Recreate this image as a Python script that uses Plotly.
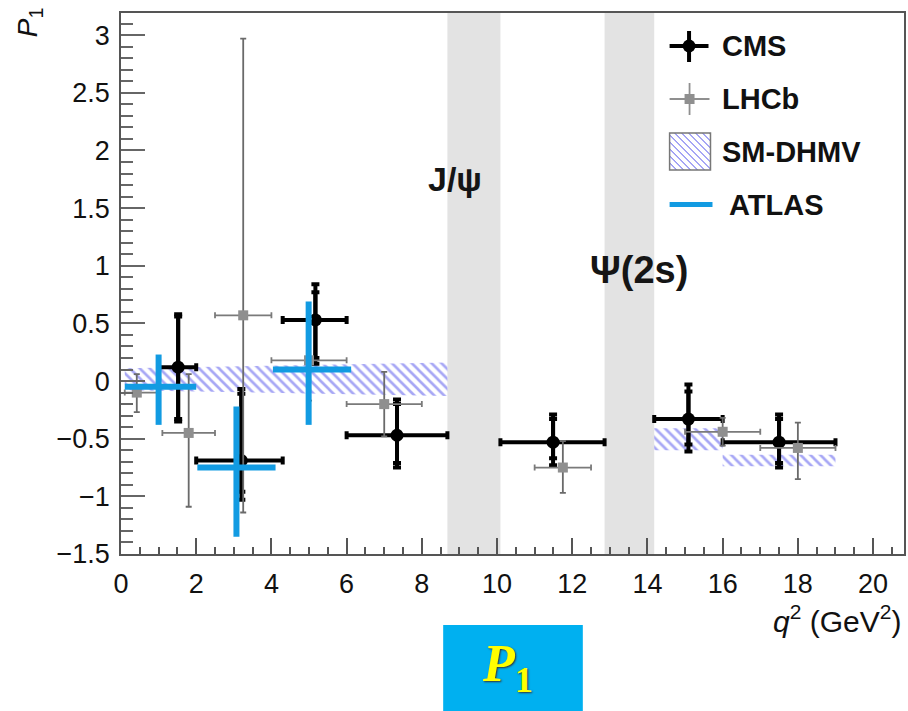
import plotly.graph_objects as go

# ---------------- data ----------------
# CMS
cms_x = [1.52, 3.20, 5.17, 7.34, 11.49, 15.09, 17.50]
cms_xlo = [1.0, 2.0, 4.3, 6.0, 10.09, 14.18, 16.0]
cms_xhi = [2.0, 4.3, 6.0, 8.68, 12.86, 16.0, 19.0]
cms_y = [0.12, -0.69, 0.53, -0.47, -0.53, -0.33, -0.53]
cms_tot_up = [0.46, 0.62, 0.31, 0.31, 0.24, 0.30, 0.24]
cms_tot_dn = [0.47, 0.34, 0.38, 0.28, 0.20, 0.28, 0.22]
cms_stat_up = [0.44, 0.58, 0.24, 0.27, 0.20, 0.24, 0.20]
cms_stat_dn = [0.45, 0.27, 0.33, 0.24, 0.14, 0.22, 0.18]

# LHCb
lhcb_x = [0.42, 1.80, 3.25, 5.00, 7.00, 11.75, 16.00, 18.00]
lhcb_xlo = [0.1, 1.1, 2.5, 4.0, 6.0, 11.0, 15.0, 17.0]
lhcb_xhi = [0.98, 2.5, 4.0, 6.0, 8.0, 12.5, 17.0, 19.0]
lhcb_y = [-0.10, -0.45, 0.57, 0.18, -0.20, -0.75, -0.44, -0.58]
lhcb_up = [0.16, 0.51, 2.40, 0.36, 0.28, 0.23, 0.12, 0.22]
lhcb_dn = [0.17, 0.64, 1.71, 0.35, 0.28, 0.22, 0.12, 0.27]

# ATLAS
atlas_x = [1.00, 3.07, 4.99]
atlas_xlo = [0.10, 2.03, 4.04]
atlas_xhi = [2.00, 4.11, 6.12]
atlas_y = [-0.05, -0.75, 0.10]
atlas_up = [0.28, 0.53, 0.59]
atlas_dn = [0.33, 0.60, 0.48]

# SM-DHMV prediction bands (start/end of each segment)
dhmv_lo = [0.1, 14.18, 16.0]
dhmv_hi = [8.68, 16.0, 19.0]
dhmv_top_start = [0.11, -0.41, -0.64]
dhmv_top_end = [0.16, -0.41, -0.64]
dhmv_bot_start = [-0.08, -0.60, -0.74]
dhmv_bot_end = [-0.13, -0.60, -0.74]

# vetoed charmonium regions
veto_lo = [8.68, 12.86]
veto_hi = [10.09, 14.18]
veto_labels = ["J/ψ", "Ψ(2s)"]
veto_label_x = [8.89, 13.77]
veto_label_y = [1.75, 0.965]
veto_label_size = [34, 38]

x_ticks = [0, 2, 4, 6, 8, 10, 12, 14, 16, 18, 20]

# ---------------- layout geometry ----------------
L, R, T, B = 121, 906, 13, 554
W, H = 908, 711


def PX(p):
    return (p - L) / (R - L)


def PY(p):
    return (B - p) / (B - T)


FONT = "Liberation Sans, Arial, Helvetica, sans-serif"
BLUE = "#129be2"
GRAY = "#8f8f8f"
HATCH = "#4f4fec"

fig = go.Figure()

# hatched SM-DHMV bands
for i in range(len(dhmv_lo)):
    fig.add_trace(go.Scatter(
        x=[dhmv_lo[i], dhmv_hi[i], dhmv_hi[i], dhmv_lo[i], dhmv_lo[i]],
        y=[dhmv_top_start[i], dhmv_top_end[i], dhmv_bot_end[i], dhmv_bot_start[i], dhmv_top_start[i]],
        mode="lines", line=dict(width=0, color="rgba(0,0,0,0)"),
        fill="toself", fillcolor="rgba(0,0,0,0)",
        fillpattern=dict(shape="\\", fgcolor=HATCH, bgcolor="rgba(0,0,0,0)",
                         size=7, solidity=0.38),
        showlegend=False, hoverinfo="skip"))

# CMS total errors
fig.add_trace(go.Scatter(
    x=cms_x, y=cms_y, mode="markers",
    marker=dict(symbol="circle", size=13, color="black"),
    error_x=dict(type="data", symmetric=False,
                 array=[h - c for h, c in zip(cms_xhi, cms_x)],
                 arrayminus=[c - l for l, c in zip(cms_xlo, cms_x)],
                 color="black", thickness=4, width=4),
    error_y=dict(type="data", symmetric=False, array=cms_tot_up, arrayminus=cms_tot_dn,
                 color="black", thickness=4, width=4),
    showlegend=False))
# CMS stat errors (inner caps)
fig.add_trace(go.Scatter(
    x=cms_x, y=cms_y, mode="markers",
    marker=dict(size=1, color="rgba(0,0,0,0)"),
    error_y=dict(type="data", symmetric=False, array=cms_stat_up, arrayminus=cms_stat_dn,
                 color="black", thickness=4, width=4),
    showlegend=False))

# LHCb
fig.add_trace(go.Scatter(
    x=lhcb_x, y=lhcb_y, mode="markers",
    marker=dict(symbol="square", size=10, color=GRAY),
    error_x=dict(type="data", symmetric=False,
                 array=[h - c for h, c in zip(lhcb_xhi, lhcb_x)],
                 arrayminus=[c - l for l, c in zip(lhcb_xlo, lhcb_x)],
                 color="#7a7a7a", thickness=1.8, width=3),
    error_y=dict(type="data", symmetric=False, array=lhcb_up, arrayminus=lhcb_dn,
                 color="#6a6a6a", thickness=1.8, width=3),
    showlegend=False))

# ATLAS
fig.add_trace(go.Scatter(
    x=atlas_x, y=atlas_y, mode="markers",
    marker=dict(size=1, color="rgba(0,0,0,0)"),
    error_x=dict(type="data", symmetric=False,
                 array=[h - c for h, c in zip(atlas_xhi, atlas_x)],
                 arrayminus=[c - l for l, c in zip(atlas_xlo, atlas_x)],
                 color=BLUE, thickness=6, width=0),
    error_y=dict(type="data", symmetric=False, array=atlas_up, arrayminus=atlas_dn,
                 color=BLUE, thickness=6, width=0),
    showlegend=False))

shapes = []
# veto bands
for lo, hi in zip(veto_lo, veto_hi):
    shapes.append(dict(type="rect", xref="x", yref="paper", x0=lo, x1=hi, y0=0, y1=1,
                       fillcolor="#e3e3e3", line=dict(width=0), layer="below"))

annotations = []
for t, xx, yy, s in zip(veto_labels, veto_label_x, veto_label_y, veto_label_size):
    annotations.append(dict(x=xx, y=yy, xref="x", yref="y", text="<b>%s</b>" % t,
                            showarrow=False, font=dict(family=FONT, size=s, color="#151515")))

# ---------------- legend (drawn manually) ----------------
# CMS
shapes.append(dict(type="line", xref="paper", yref="paper", x0=PX(671), x1=PX(710), y0=PY(46), y1=PY(46),
                   line=dict(color="black", width=4)))
shapes.append(dict(type="line", xref="paper", yref="paper", x0=PX(690.5), x1=PX(690.5), y0=PY(31), y1=PY(62),
                   line=dict(color="black", width=4)))
shapes.append(dict(type="circle", xref="paper", yref="paper", x0=PX(684), x1=PX(697), y0=PY(39.5), y1=PY(52.5),
                   fillcolor="black", line=dict(width=0)))
# LHCb
shapes.append(dict(type="line", xref="paper", yref="paper", x0=PX(671), x1=PX(711), y0=PY(99), y1=PY(99),
                   line=dict(color=GRAY, width=1.8)))
shapes.append(dict(type="line", xref="paper", yref="paper", x0=PX(691), x1=PX(691), y0=PY(83), y1=PY(115),
                   line=dict(color=GRAY, width=1.8)))
shapes.append(dict(type="rect", xref="paper", yref="paper", x0=PX(686), x1=PX(696), y0=PY(94), y1=PY(104),
                   fillcolor=GRAY, line=dict(width=0)))
# SM-DHMV box with hatch
bx0, bx1, by0, by1 = 671, 712, 133, 170
c = bx0 - by1
while c < bx1 - by0:
    ya = max(by0, bx0 - c)
    yb = min(by1, bx1 - c)
    if yb > ya:
        shapes.append(dict(type="line", xref="paper", yref="paper",
                           x0=PX(ya + c), y0=PY(ya), x1=PX(yb + c), y1=PY(yb),
                           line=dict(color=HATCH, width=1)))
    c += 7
shapes.append(dict(type="rect", xref="paper", yref="paper", x0=PX(bx0), x1=PX(bx1), y0=PY(by0), y1=PY(by1),
                   line=dict(color="#777777", width=1.5)))
# ATLAS
shapes.append(dict(type="line", xref="paper", yref="paper", x0=PX(671), x1=PX(714), y0=PY(204.5), y1=PY(204.5),
                   line=dict(color=BLUE, width=5)))

leg_names = ["CMS", "LHCb", "SM-DHMV", "ATLAS"]
leg_x = [722, 722, 722, 729]
leg_y = [46, 99, 152, 205]
for n, lx, ly in zip(leg_names, leg_x, leg_y):
    annotations.append(dict(x=PX(lx), y=PY(ly), xref="paper", yref="paper", xanchor="left", yanchor="middle",
                            text="<b>%s</b>" % n, showarrow=False,
                            font=dict(family=FONT, size=29, color="#111111")))

# axis titles
annotations.append(dict(x=PX(905), y=PY(619), xref="paper", yref="paper", xanchor="right", yanchor="middle",
                        text="<i>q</i><sup>2</sup> (GeV<sup>2</sup>)", showarrow=False,
                        font=dict(family=FONT, size=30, color="#111111")))
annotations.append(dict(x=PX(30), y=PY(22), xref="paper", yref="paper", xanchor="center", yanchor="middle",
                        textangle=-90, text="<i>P</i><sub>1</sub>", showarrow=False,
                        font=dict(family=FONT, size=28, color="#111111")))

# bottom P1 label box
shapes.append(dict(type="rect", xref="paper", yref="paper", x0=PX(444), x1=PX(584), y0=PY(625), y1=PY(715),
                   fillcolor="#00b0f0", line=dict(width=0)))
annotations.append(dict(x=PX(508), y=PY(667), xref="paper", yref="paper", xanchor="center", yanchor="middle",
                        text="<b><i>P</i></b><sub><b>1</b></sub>", showarrow=False,
                        font=dict(family="Liberation Serif, DejaVu Serif, serif", size=52, color="#ffff00",
                                  shadow="1px 1px 2px #333333")))

fig.update_layout(
    width=W, height=H,
    margin=dict(l=L, r=W - R, t=T, b=H - B, pad=0),
    paper_bgcolor="white", plot_bgcolor="white",
    shapes=shapes, annotations=annotations,
    showlegend=False,
    font=dict(family=FONT, size=27, color="#111111"),
)
fig.update_xaxes(
    range=[0, (R - L) / 37.7], tickvals=x_ticks, ticktext=[str(v) for v in x_ticks],
    ticks="inside", ticklen=16, tickwidth=1.5, tickcolor="#555555",
    minor=dict(dtick=0.5, tick0=0, ticks="inside", ticklen=7, tickwidth=1.5, tickcolor="#555555"),
    showline=True, linecolor="#555555", linewidth=1.5, mirror=True,
    showgrid=False, zeroline=False, ticklabelstandoff=5,
    tickfont=dict(family=FONT, size=27, color="#111111"),
)
fig.update_yaxes(
    range=[-1.5, -1.5 + (B - T) / 115.3], dtick=0.5, tick0=0,
    ticks="inside", ticklen=24, tickwidth=1.5, tickcolor="#666666",
    minor=dict(dtick=0.1, tick0=0, ticks="inside", ticklen=12, tickwidth=1.5, tickcolor="#666666"),
    showline=True, linecolor="#555555", linewidth=1.5, mirror=True,
    showgrid=False, zeroline=False, ticklabelstandoff=4,
    tickfont=dict(family=FONT, size=27, color="#111111"),
)

fig.write_html("out.html")
